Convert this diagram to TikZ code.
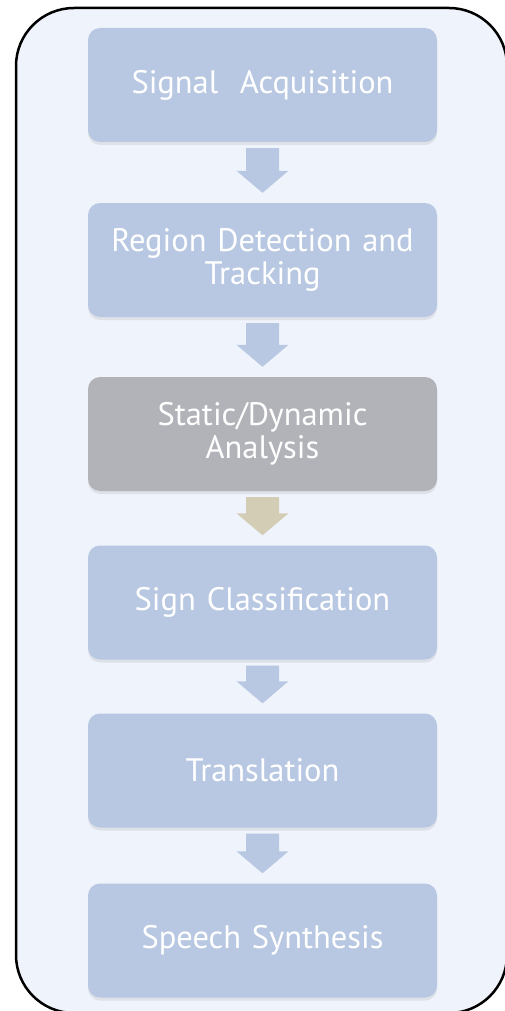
\documentclass[tikz,border=0pt]{standalone}
\usepackage{fontspec}
\setmainfont{PT Sans}
\usetikzlibrary{calc,shadows}
\definecolor{framebg}{HTML}{EFF3FB}
\definecolor{boxblue}{HTML}{B8C8E2}
\definecolor{boxgray}{HTML}{B2B3B8}
\definecolor{arrowblue}{HTML}{B8C8E2}
\definecolor{arrowtan}{HTML}{D3CDB6}
\tikzset{
  stage/.style={rounded corners=12pt, minimum width=349pt, minimum height=114pt,
    text width=340pt, align=center, text=white, fill=boxblue,
    font=\fontsize{32.5}{33}\selectfont,
    drop shadow={shadow xshift=0pt, shadow yshift=-3pt, opacity=0.15}},
}
% block arrow from the bottom of #1 to the top of #2
\newcommand{\blockarrow}[3]{%
  \fill[#3] ($(#1.south)+(-16.5,-6)$) -- ($(#1.south)+(16.5,-6)$)
    -- ($(#2.north)+(16.5,32)$) -- ($(#2.north)+(26,32)$)
    -- ($(#2.north)+(0,10)$) -- ($(#2.north)+(-26,32)$)
    -- ($(#2.north)+(-16.5,32)$) -- cycle;}
\begin{document}
\begin{tikzpicture}[x=1pt,y=1pt]
\useasboundingbox (0,0) rectangle (505,-1011);
\begin{scope}
\clip (0,0) rectangle (505,-1011);
\draw [line width=2.5pt, rounded corners=58pt, fill=framebg] (16,-8) rectangle (507,-1013);
\end{scope}
\node [stage] (acq) at (262.5,-85) {Signal\ \ Acquisition};
\node [stage] (region) at (262.5,-260) {Region Detection and\\Tracking};
\node [stage, fill=boxgray] (static) at (262.5,-434) {Static/Dynamic\\Analysis};
\node [stage] (classif) at (262.5,-602.5) {Sign Classification};
\node [stage] (transl) at (262.5,-770.5) {Translation};
\node [stage] (speech) at (262.5,-940.5) {Speech Synthesis};
\blockarrow{acq}{region}{arrowblue}
\blockarrow{region}{static}{arrowblue}
\blockarrow{static}{classif}{arrowtan}
\blockarrow{classif}{transl}{arrowblue}
\blockarrow{transl}{speech}{arrowblue}
\end{tikzpicture}
\end{document}
